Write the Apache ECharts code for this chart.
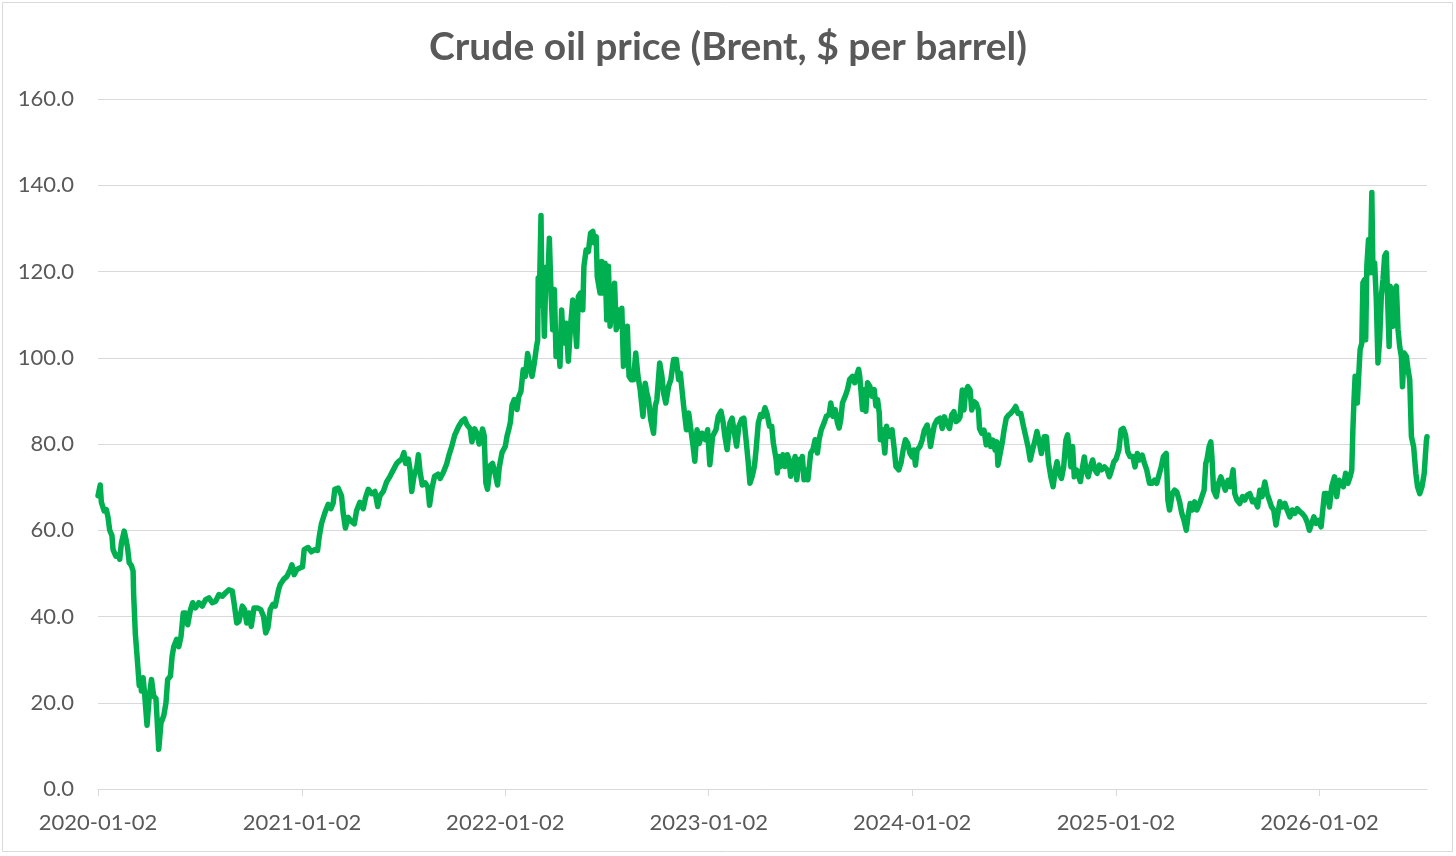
<!DOCTYPE html>
<html>
<head>
<meta charset="utf-8">
<script src="https://cdn.jsdelivr.net/npm/echarts@6/dist/echarts.min.js"></script>
<style>
    html, body { margin: 0; padding: 0; background: #fff; }
    #chart { width: 1456px; height: 856px; }
</style>
</head>
<body>
<div id="chart"></div>
<script>
const chartTitle = 'Crude oil price (Brent, $ per barrel)'
const xLabels = ['2020-01-02', '2021-01-02', '2022-01-02', '2023-01-02', '2024-01-02', '2025-01-02', '2026-01-02']

// Brent: [month-day, $ per barrel]
const brent2020 = [['01-02',68.0],['01-06',70.5],['01-08',66.5],['01-13',64.5],['01-17',64.8],['01-20',63.0],['01-23',60.0],['01-27',58.8],['01-29',55.5],['02-03',54.0],['02-07',54.3],['02-10',53.3],['02-13',57.0],['02-18',59.8],['02-21',58.0],['02-24',56.0],['02-27',52.5],['03-02',51.8],['03-05',50.5],['03-06',45.0],['03-09',36.0],['03-12',31.0],['03-16',24.0],['03-18',25.0],['03-20',22.7],['03-23',25.8],['03-26',21.5],['03-30',14.8],['04-03',21.5],['04-07',25.4],['04-11',21.5],['04-15',21.0],['04-20',9.2],['04-24',15.3],['04-29',17.0],['05-03',20.0],['05-06',25.4],['05-11',26.2],['05-14',30.8],['05-17',33.0],['05-22',34.7],['05-26',33.0],['05-30',35.4],['06-03',40.8],['06-07',40.8],['06-11',38.1],['06-16',41.6],['06-20',43.2],['06-25',42.0],['07-01',43.2],['07-07',42.4],['07-13',43.9],['07-19',44.3],['07-25',43.2],['07-31',43.5],['08-06',45.1],['08-12',44.7],['08-18',45.5],['08-24',46.2],['08-30',45.9],['09-03',42.4],['09-07',38.5],['09-11',38.9],['09-17',42.4],['09-21',41.6],['09-25',38.5],['09-29',40.8],['10-03',37.7],['10-08',42.0],['10-14',42.0],['10-20',41.6],['10-25',40.1],['10-29',36.2],['11-02',37.4],['11-06',41.6],['11-11',42.8],['11-15',42.4],['11-21',46.2],['11-24',47.4],['11-30',48.6],['12-06',49.3],['12-12',50.9],['12-15',52.0],['12-19',49.7],['12-24',50.9],['12-30',51.3]]
const brent2021 = [['01-03',51.5],['01-06',55.5],['01-13',56.0],['01-19',55.0],['01-25',55.5],['01-30',55.3],['02-02',58.5],['02-06',61.5],['02-12',64.0],['02-18',66.0],['02-23',65.0],['02-27',66.3],['03-02',69.5],['03-08',69.8],['03-14',68.0],['03-17',64.0],['03-21',60.5],['03-26',63.0],['04-01',62.0],['04-06',61.5],['04-10',64.5],['04-16',66.5],['04-22',65.0],['04-26',67.5],['05-01',69.5],['05-07',68.5],['05-13',69.0],['05-18',65.5],['05-22',68.0],['05-28',69.0],['06-03',71.2],['06-09',72.5],['06-15',74.0],['06-21',75.5],['06-25',76.0],['06-30',76.5],['07-04',78.0],['07-07',75.5],['07-12',76.5],['07-15',74.0],['07-18',69.0],['07-22',72.5],['07-27',74.5],['07-30',77.5],['08-02',73.5],['08-06',70.5],['08-11',71.0],['08-16',70.0],['08-19',65.8],['08-23',69.5],['08-28',72.5],['09-03',73.0],['09-07',72.0],['09-13',73.5],['09-19',75.5],['09-23',77.5],['09-28',79.5],['10-03',82.0],['10-10',84.0],['10-16',85.3],['10-21',85.8],['10-25',84.5],['10-31',83.5],['11-03',80.5],['11-08',83.5],['11-12',82.5],['11-16',80.0],['11-18',80.5],['11-22',83.5],['11-25',82.0],['11-28',71.0],['12-01',69.5],['12-06',75.0],['12-10',75.5],['12-15',73.0],['12-19',70.5],['12-22',74.5],['12-27',78.0]]
const brent2022 = [['01-02',79.5],['01-05',81.8],['01-08',83.3],['01-11',85.0],['01-14',89.0],['01-18',90.3],['01-23',88.0],['01-26',91.0],['01-30',92.2],['02-03',97.2],['02-07',95.7],['02-11',101.0],['02-15',98.0],['02-19',95.7],['02-23',98.8],['02-27',102.6],['03-01',104.0],['03-02',118.5],['03-04',114.0],['03-07',133.0],['03-09',112.0],['03-11',116.0],['03-13',105.0],['03-16',121.0],['03-19',117.3],['03-22',127.7],['03-25',115.0],['03-28',106.5],['03-31',115.8],['04-03',100.3],['04-07',104.2],['04-10',98.0],['04-13',111.1],['04-16',103.4],['04-21',108.0],['04-25',99.2],['04-29',107.3],['05-03',113.4],['05-07',108.0],['05-10',102.6],['05-13',114.2],['05-17',115.0],['05-21',111.1],['05-23',121.2],['05-27',125.0],['05-31',124.6],['06-04',128.9],['06-08',129.3],['06-11',126.6],['06-14',128.1],['06-16',118.8],['06-21',115.0],['06-24',122.3],['06-27',115.0],['06-30',121.9],['07-03',108.8],['07-06',121.2],['07-09',107.3],['07-14',113.4],['07-17',117.3],['07-20',106.5],['07-24',111.1],['07-27',107.3],['07-30',111.5],['08-02',98.0],['08-05',102.6],['08-09',107.3],['08-12',95.7],['08-16',94.9],['08-20',94.9],['08-24',101.1],['08-28',95.7],['09-01',92.6],['09-06',86.4],['09-10',94.1],['09-13',91.8],['09-16',90.3],['09-20',85.6],['09-25',82.5],['09-28',88.8],['10-01',90.3],['10-06',98.8],['10-10',95.7],['10-13',91.8],['10-17',89.5],['10-22',93.4],['10-26',94.9],['10-31',99.6],['11-05',99.6],['11-09',94.9],['11-12',96.4],['11-15',92.6],['11-18',88.8],['11-23',83.3],['11-27',87.2],['12-01',83.3],['12-05',79.5],['12-08',76.0],['12-12',83.3],['12-16',80.1],['12-21',82.5],['12-27',81.0],['12-31',83.3]]
const brent2023 = [['01-04',75.2],['01-09',81.8],['01-15',83.3],['01-19',86.4],['01-24',87.6],['01-28',84.9],['01-31',81.8],['02-04',78.7],['02-09',84.9],['02-13',86.0],['02-17',82.6],['02-21',79.5],['02-25',84.1],['03-02',85.7],['03-06',86.0],['03-10',81.0],['03-14',75.6],['03-17',70.9],['03-21',72.5],['03-25',74.8],['03-28',78.7],['04-01',84.9],['04-05',86.8],['04-09',86.4],['04-13',88.4],['04-17',86.8],['04-21',84.1],['04-25',84.1],['04-28',80.2],['05-03',76.4],['05-05',73.3],['05-08',77.1],['05-11',74.8],['05-15',77.5],['05-19',74.8],['05-23',77.5],['05-26',76.4],['05-29',72.5],['06-02',74.8],['06-06',77.1],['06-09',71.7],['06-13',76.4],['06-17',75.6],['06-19',77.1],['06-22',71.7],['06-25',74.0],['06-29',71.7],['07-04',77.9],['07-08',78.7],['07-12',81.0],['07-16',77.9],['07-19',81.0],['07-23',83.3],['07-28',84.9],['08-01',86.4],['08-06',86.8],['08-09',89.5],['08-13',86.4],['08-17',88.0],['08-21',84.9],['08-24',83.7],['08-27',85.7],['08-30',89.5],['09-04',91.1],['09-08',92.6],['09-12',95.0],['09-17',95.7],['09-21',94.2],['09-24',95.7],['09-28',97.3],['09-30',95.7],['10-03',91.1],['10-05',88.0],['10-08',92.6],['10-11',87.6],['10-14',94.2],['10-18',93.4],['10-22',91.1],['10-26',92.6],['10-29',88.8],['11-01',90.3],['11-04',87.2],['11-06',81.0],['11-10',83.3],['11-14',77.9],['11-17',84.1],['11-22',81.8],['11-27',83.3],['12-01',78.7],['12-04',74.8],['12-09',74.0],['12-13',75.6],['12-17',78.7],['12-21',81.0],['12-25',80.2],['12-29',77.9]]
const brent2024 = [['01-02',77.0],['01-05',78.6],['01-08',75.1],['01-11',78.6],['01-16',79.4],['01-20',80.9],['01-24',83.2],['01-29',84.4],['02-01',82.5],['02-04',79.4],['02-07',81.7],['02-11',84.4],['02-16',85.6],['02-21',86.0],['02-25',83.6],['02-29',86.3],['03-04',84.8],['03-09',83.6],['03-13',86.7],['03-17',87.5],['03-21',85.2],['03-25',85.6],['03-28',86.3],['04-01',92.5],['04-04',87.9],['04-07',92.1],['04-11',93.3],['04-15',92.5],['04-18',87.9],['04-22',89.8],['04-26',89.4],['04-30',87.9],['05-02',83.6],['05-06',82.5],['05-10',83.2],['05-14',79.8],['05-18',82.1],['05-22',79.4],['05-26',80.9],['05-30',78.6],['06-02',80.5],['06-04',75.1],['06-08',77.8],['06-12',80.5],['06-15',83.2],['06-19',86.0],['06-23',86.7],['06-27',87.1],['07-02',87.9],['07-06',88.7],['07-10',87.1],['07-15',87.1],['07-20',84.0],['07-24',81.7],['07-28',79.4],['08-01',76.3],['08-05',78.6],['08-09',80.5],['08-13',82.9],['08-17',80.5],['08-21',77.8],['08-26',81.7],['08-30',81.7],['09-03',75.5],['09-07',72.4],['09-11',70.1],['09-15',74.0],['09-18',75.9],['09-22',73.2],['09-26',72.0],['09-30',74.7],['10-04',80.9],['10-07',82.1],['10-10',78.6],['10-13',74.7],['10-16',79.4],['10-19',72.4],['10-23',74.0],['10-30',71.3],['11-02',74.0],['11-06',77.0],['11-09',74.0],['11-13',72.4],['11-17',74.7],['11-21',76.3],['11-25',74.0],['11-29',73.2],['12-03',75.1],['12-07',74.0],['12-12',74.7],['12-17',74.0],['12-21',72.4],['12-25',74.0],['12-29',75.9]]
const brent2025 = [['01-02',76.5],['01-07',78.6],['01-11',83.3],['01-15',83.6],['01-19',82.1],['01-23',78.2],['01-27',77.1],['02-01',77.1],['02-05',74.7],['02-09',77.8],['02-13',76.3],['02-18',77.4],['02-22',75.5],['02-26',74.0],['03-03',70.9],['03-08',70.9],['03-12',71.6],['03-16',70.9],['03-20',72.8],['03-24',74.7],['03-28',77.1],['04-02',77.8],['04-05',67.0],['04-08',64.7],['04-13',68.5],['04-17',69.3],['04-21',68.9],['04-26',66.6],['04-30',63.9],['05-04',62.3],['05-08',60.0],['05-11',63.1],['05-15',66.2],['05-19',64.7],['05-23',66.6],['05-27',64.7],['06-01',66.2],['06-05',67.8],['06-09',69.3],['06-12',75.5],['06-14',76.3],['06-18',79.4],['06-21',80.5],['06-23',77.1],['06-26',69.3],['07-01',67.8],['07-05',70.9],['07-09',72.4],['07-13',70.9],['07-17',69.3],['07-22',71.6],['07-26',70.1],['07-31',74.0],['08-03',68.5],['08-07',67.0],['08-12',66.2],['08-17',67.8],['08-21',67.0],['08-25',68.1],['08-30',68.5],['09-04',66.6],['09-08',67.0],['09-13',65.4],['09-17',69.3],['09-21',67.8],['09-26',71.2],['09-30',68.5],['10-03',67.4],['10-08',65.4],['10-12',64.7],['10-16',61.2],['10-20',64.3],['10-23',66.6],['10-27',65.4],['11-01',66.2],['11-05',64.7],['11-10',63.1],['11-14',64.7],['11-19',63.9],['11-23',65.0],['11-28',64.3],['12-02',63.9],['12-07',63.1],['12-11',61.9],['12-15',60.0],['12-19',61.6],['12-23',63.1],['12-27',61.6],['12-31',62.3]]
const brent2026 = [['01-05',60.8],['01-08',64.7],['01-11',68.5],['01-16',68.5],['01-20',65.4],['01-24',70.1],['01-29',72.4],['02-02',67.8],['02-06',71.6],['02-10',70.9],['02-14',70.1],['02-18',73.2],['02-22',70.9],['02-26',72.4],['03-01',74.0],['03-03',83.3],['03-05',90.2],['03-07',95.7],['03-11',89.5],['03-13',94.9],['03-16',101.9],['03-19',103.4],['03-21',117.4],['03-24',118.1],['03-26',104.2],['03-28',121.2],['03-31',127.4],['04-03',119.7],['04-06',138.3],['04-08',119.7],['04-11',122.0],['04-14',113.5],['04-17',98.8],['04-20',104.2],['04-23',114.3],['04-26',118.1],['04-29',123.6],['05-02',124.3],['05-04',115.0],['05-07',102.6],['05-09',116.6],['05-11',112.0],['05-14',107.3],['05-17',115.8],['05-20',116.6],['05-23',106.5],['05-26',102.6],['05-29',100.3],['05-31',93.3],['06-03',101.1],['06-07',100.3],['06-10',97.2],['06-13',94.9],['06-16',81.7],['06-20',79.4],['06-24',73.2],['06-27',70.1],['07-01',68.5],['07-05',70.1],['07-09',73.2],['07-11',77.1],['07-13',80.9],['07-14',81.7]]

const byYear = [[2020, brent2020], [2021, brent2021], [2022, brent2022], [2023, brent2023], [2024, brent2024], [2025, brent2025], [2026, brent2026]]

const toTime = s => new Date(s + 'T00:00:00Z').getTime()

const points = []
byYear.forEach(([year, rows]) => {
    rows.forEach(([md, v]) => points.push([toTime(year + '-' + md), v]))
})
const tickTimes = xLabels.map(toTime)

const textColor = '#595959'
const gridColor = '#D9D9D9'
const font = 'Lato, "Open Sans", sans-serif'

const chart = echarts.init(document.getElementById('chart'))

chart.setOption({
    animation: false,
    backgroundColor: '#fff',
    title: {
        text: chartTitle,
        left: 'center',
        top: 23,
        textStyle: { fontFamily: font, fontWeight: 'bold', fontSize: 39, color: textColor }
    },
    grid: { left: 98, right: 29, top: 99, bottom: 67 },
    xAxis: {
        type: 'value',
        min: tickTimes[0],
        max: points[points.length - 1][0],
        splitLine: { show: false },
        axisLine: { lineStyle: { color: gridColor, width: 1 } },
        axisTick: { show: true, customValues: tickTimes, length: 7, lineStyle: { color: gridColor } },
        axisLabel: {
            customValues: tickTimes,
            formatter: v => xLabels[tickTimes.indexOf(v)] || '',
            margin: 23,
            fontFamily: font,
            fontSize: 22,
            color: textColor
        }
    },
    yAxis: {
        type: 'value',
        min: 0,
        max: 160,
        interval: 20,
        axisLine: { show: false },
        axisTick: { show: false },
        splitLine: { lineStyle: { color: gridColor, width: 1 } },
        axisLabel: {
            formatter: v => v.toFixed(1),
            margin: 24,
            fontFamily: font,
            fontSize: 22,
            color: textColor
        }
    },
    graphic: [{
        type: 'rect',
        shape: { x: 2.5, y: 2.5, width: 1450, height: 849 },
        style: { fill: null, stroke: gridColor, lineWidth: 1 }
    }],
    series: [{
        type: 'line',
        data: points,
        showSymbol: false,
        symbol: 'none',
        lineStyle: { color: '#00B050', width: 5.5, cap: 'round', join: 'round' }
    }]
})
</script>
</body>
</html>
